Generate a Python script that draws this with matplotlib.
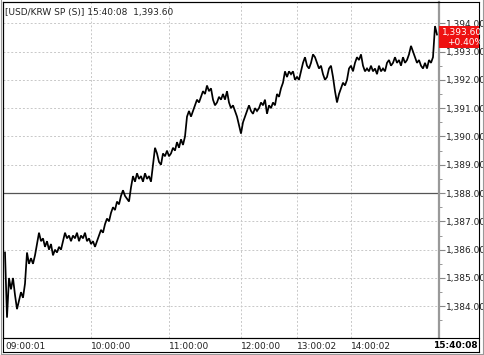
import matplotlib
matplotlib.use("Agg")
import matplotlib.pyplot as plt
from matplotlib.patches import Rectangle
from matplotlib.lines import Line2D

# ---- data ----
prices = [
    1385.9, 1383.6, 1385.0, 1384.6, 1385.0, 1384.4, 1383.9, 1384.2, 1384.5, 1384.3,
    1384.8, 1385.9, 1385.5, 1385.7, 1385.5, 1385.8, 1386.2, 1386.6, 1386.3, 1386.4,
    1386.1, 1386.3, 1386.0, 1386.2, 1385.8, 1386.0, 1385.9, 1386.1, 1386.0, 1386.3,
    1386.6, 1386.4, 1386.5, 1386.3, 1386.5, 1386.4, 1386.6, 1386.3, 1386.5, 1386.4,
    1386.6, 1386.3, 1386.4, 1386.2, 1386.3, 1386.1, 1386.3, 1386.5, 1386.7, 1386.6,
    1386.9, 1387.1, 1387.0, 1387.3, 1387.5, 1387.4, 1387.7, 1387.6, 1387.9, 1388.1,
    1387.9, 1387.8, 1387.7, 1388.2, 1388.6, 1388.4, 1388.7, 1388.5, 1388.6, 1388.4,
    1388.7, 1388.5, 1388.6, 1388.4, 1389.0, 1389.6, 1389.4, 1389.1, 1389.0, 1389.4,
    1389.3, 1389.5, 1389.3, 1389.4, 1389.6, 1389.5, 1389.8, 1389.6, 1389.9, 1389.7,
    1390.0, 1390.7, 1390.9, 1390.7, 1390.9, 1391.1, 1391.3, 1391.2, 1391.4, 1391.6,
    1391.5, 1391.8, 1391.6, 1391.7, 1391.3, 1391.1, 1391.2, 1391.4, 1391.3, 1391.5,
    1391.3, 1391.6, 1391.2, 1391.0, 1391.1, 1390.9, 1390.7, 1390.4, 1390.1, 1390.5,
    1390.7, 1390.9, 1391.1, 1390.9, 1390.8, 1391.0, 1390.9, 1391.0, 1391.2, 1391.1,
    1391.3, 1390.8, 1391.1, 1391.0, 1391.2, 1391.1, 1391.5, 1391.4, 1391.7, 1391.9,
    1392.3, 1392.1, 1392.3, 1392.2, 1392.3, 1392.0, 1392.1, 1392.0, 1392.3, 1392.6,
    1392.8, 1392.5, 1392.4, 1392.6, 1392.9, 1392.8, 1392.6, 1392.4, 1392.5, 1392.2,
    1392.0, 1392.1, 1392.4, 1392.5, 1392.1, 1391.6, 1391.2, 1391.5, 1391.7, 1391.9,
    1391.8, 1392.0, 1392.4, 1392.5, 1392.3, 1392.6, 1392.8, 1392.7, 1392.9, 1392.5,
    1392.3, 1392.4, 1392.3, 1392.5, 1392.3, 1392.4, 1392.2, 1392.5, 1392.3, 1392.4,
    1392.3, 1392.6, 1392.7, 1392.5, 1392.6, 1392.8, 1392.6, 1392.7, 1392.5, 1392.8,
    1392.6, 1392.7, 1392.9, 1393.2, 1393.0, 1392.8, 1392.6, 1392.7, 1392.5, 1392.4,
    1392.6, 1392.4, 1392.7, 1392.6, 1392.8, 1393.9, 1393.6,
]
time_tick_pos = [0, 43, 82, 118, 146, 173]
time_tick_labels = ["09:00:01", "10:00:00", "11:00:00", "12:00:00", "13:00:02", "14:00:02"]
last_time = "15:40:08"
last_price_label = "1,393.60"
change_label = "+0.40%"
prev_close = 1388.0
y_ticks = [1384, 1385, 1386, 1387, 1388, 1389, 1390, 1391, 1392, 1393, 1394]
title = "[USD/KRW SP (S)] 15:40:08  1,393.60"

W, H = 485, 355
fig = plt.figure(figsize=(W / 100, H / 100), dpi=100)
fig.patch.set_facecolor("white")

def fx(px):
    return px / W

def fy(py):
    return 1 - py / H

L, R, T, B = 3, 439, 2, 338
ax = fig.add_axes([fx(L), fy(B), fx(R) - fx(L), fy(T) - fy(B)])
ax.set_facecolor("white")

xs = list(range(len(prices)))
ax.plot(xs, prices, color="black", lw=1.25, solid_joinstyle="miter")

ax.set_xlim(-1, 217)
ax.set_ylim(1382.88, 1394.75)

# grids
for t in time_tick_pos[1:]:
    ax.axvline(t, color="#c8c8c8", lw=0.7, ls=(0, (2, 2)), zorder=0)
for v in y_ticks:
    if v != prev_close:
        ax.axhline(v, color="#c8c8c8", lw=0.7, ls=(0, (2, 2)), zorder=0)
ax.axhline(prev_close, color="#555555", lw=0.9, zorder=1)

# y axis on right
ax.yaxis.tick_right()
ax.set_yticks(y_ticks)
ax.set_yticklabels([f"{v:,.2f}" for v in y_ticks], fontsize=6.5, color="#222222")
ax.set_yticks([v + 0.5 for v in y_ticks[:-1]] + [1383.5], minor=True)
ax.tick_params(axis="y", which="major", length=4, width=0.8, color="#888888", pad=1)
ax.tick_params(axis="y", which="minor", length=2, width=0.6, color="#888888")

# x axis labels
ax.set_xticks(time_tick_pos)
ax.set_xticklabels(time_tick_labels, fontsize=6.5, color="#222222", ha="left")
ax.tick_params(axis="x", length=0, pad=3)

for s in ["left", "top", "bottom"]:
    ax.spines[s].set_color("black")
    ax.spines[s].set_linewidth(0.8)
ax.spines["right"].set_color("#999999")
ax.spines["right"].set_linewidth(1.6)

# title
fig.text(fx(5), fy(12), title, fontsize=6.5, color="#222222", va="center", ha="left")

# outer frame and bottom band
fig.add_artist(Line2D([fx(L), fx(479)], [fy(T), fy(T)], color="black", lw=0.8))
fig.add_artist(Line2D([fx(479), fx(479)], [fy(T), fy(352)], color="black", lw=0.8))
fig.add_artist(Line2D([fx(L), fx(479)], [fy(352), fy(352)], color="black", lw=0.8))
fig.add_artist(Line2D([fx(L), fx(479)], [fy(B), fy(B)], color="black", lw=0.8))
fig.add_artist(Line2D([fx(L), fx(L)], [fy(T), fy(352)], color="black", lw=0.8))
fig.add_artist(Line2D([fx(1), fx(1)], [fy(0), fy(354)], color="#999999", lw=0.8))
fig.add_artist(Line2D([fx(1), fx(483)], [fy(354), fy(354)], color="#999999", lw=0.8))
fig.add_artist(Line2D([fx(483), fx(483)], [fy(0), fy(354)], color="#999999", lw=0.8))
fig.text(fx(478), fy(345), last_time, fontsize=6.5, fontweight="bold",
         color="black", ha="right", va="center")

# last price red box
fig.add_artist(Rectangle((fx(439), fy(48)), fx(479) - fx(439), fy(26) - fy(48),
                         facecolor="#ee1111", edgecolor="none", zorder=5))
fig.text(fx(442), fy(32.5), last_price_label, fontsize=6.5, color="white",
         ha="left", va="center", zorder=6)
fig.text(fx(447), fy(42.5), change_label, fontsize=6.5, color="white",
         ha="left", va="center", zorder=6)

fig.savefig("out.png", dpi=100, facecolor="white")
